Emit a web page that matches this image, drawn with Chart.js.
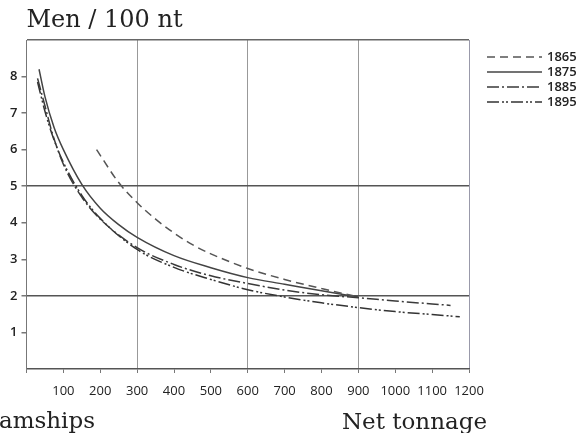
<!DOCTYPE html>
<html>
<head>
<meta charset="utf-8">
<script src="https://cdn.jsdelivr.net/npm/chart.js@4/dist/chart.umd.min.js"></script>
<style>
  html, body { margin: 0; padding: 0; background: #fff; }
  #wrap { width: 585px; height: 433px; }
</style>
</head>
<body>
<div id="wrap"><canvas id="myChart" width="585" height="433"></canvas></div>
<script>
// values (net tonnage -> men per 100 nt)
const years = ['1865', '1875', '1885', '1895'];

const tons1865 = [190, 250, 300, 350, 400, 450, 500, 600, 700, 800, 900];
const men1865  = [6.0, 5.1, 4.55, 4.1, 3.72, 3.4, 3.15, 2.75, 2.45, 2.2, 1.97];

const tons1875 = [34, 50, 75, 100, 150, 200, 250, 300, 400, 500, 600, 700, 800, 900];
const men1875  = [8.2, 7.45, 6.6, 6.0, 5.05, 4.4, 3.95, 3.6, 3.1, 2.77, 2.5, 2.32, 2.14, 1.97];

const tons1885 = [30, 50, 70, 100, 150, 200, 300, 400, 500, 600, 700, 800, 900, 1000, 1100, 1150];
const men1885  = [7.95, 7.2, 6.45, 5.6, 4.7, 4.1, 3.32, 2.86, 2.55, 2.34, 2.16, 2.03, 1.95, 1.86, 1.78, 1.74];

const tons1895 = [30, 50, 70, 100, 150, 200, 300, 400, 500, 600, 700, 800, 900, 1000, 1100, 1175];
const men1895  = [7.85, 7.05, 6.4, 5.65, 4.75, 4.12, 3.27, 2.78, 2.45, 2.17, 1.97, 1.81, 1.68, 1.57, 1.49, 1.43];

const xTicks = [100, 200, 300, 400, 500, 600, 700, 800, 900, 1000, 1100, 1200];
const yTicks = [1, 2, 3, 4, 5, 6, 7, 8];

function pts(xs, ys) {
    return xs.map((x, i) => ({ x: x, y: ys[i] }));
}

const serif = '"DejaVu Serif", serif';
const sans = '"Open Sans", sans-serif';

const textPlugin = {
    id: 'paperText',
    afterDraw(chart) {
        const { ctx, chartArea: { left, right } } = chart;
        ctx.save();
        ctx.fillStyle = '#222';
        ctx.font = '24px ' + serif;
        ctx.textBaseline = 'alphabetic';
        ctx.textAlign = 'left';
        ctx.fillText('Men / 100 nt', left, 27);
        ctx.font = '23px ' + serif;
        ctx.textAlign = 'right';
        ctx.fillText('Steamships', 95, 428);
        ctx.fillText('Net tonnage', right + 18, 429);

        // legend on the right
        ctx.font = '600 13px ' + sans;
        ctx.textAlign = 'left';
        ctx.textBaseline = 'middle';
        chart.data.datasets.forEach((ds, i) => {
            const y = 57 + i * 15;
            ctx.beginPath();
            ctx.setLineDash(ds.borderDash || []);
            ctx.strokeStyle = ds.borderColor;
            ctx.lineWidth = 1.6;
            ctx.moveTo(487, y);
            ctx.lineTo(542, y);
            ctx.stroke();
            ctx.setLineDash([]);
            ctx.fillStyle = '#222';
            ctx.fillText(ds.label, 547, y);
        });
        ctx.restore();
    }
};

const ctx = document.getElementById('myChart');

new Chart(ctx, {
    type: 'line',
    plugins: [textPlugin],
    data: {
        datasets: [
            { label: years[0], data: pts(tons1865, men1865), borderColor: '#555', borderDash: [8, 5] },
            { label: years[1], data: pts(tons1875, men1875), borderColor: '#444', borderDash: [] },
            { label: years[2], data: pts(tons1885, men1885), borderColor: '#3a3a3a', borderDash: [12, 3, 2, 3] },
            { label: years[3], data: pts(tons1895, men1895), borderColor: '#333', borderDash: [12, 3, 2, 2, 2, 3] }
        ]
    },
    options: {
        responsive: false,
        animation: false,
        layout: { padding: { left: 0, top: 40, right: 116, bottom: 0 } },
        elements: {
            line: { borderWidth: 1.5, cubicInterpolationMode: 'monotone', fill: false },
            point: { radius: 0 }
        },
        plugins: {
            legend: { display: false },
            tooltip: { enabled: false }
        },
        scales: {
            x: {
                type: 'linear',
                min: 0,
                max: 1200,
                afterFit(scale) { scale.height = 64; },
                afterBuildTicks(scale) {
                    scale.ticks = [{ value: 0 }].concat(xTicks.map(v => ({ value: v })));
                },
                ticks: {
                    padding: 10,
                    maxRotation: 0,
                    autoSkip: false,
                    color: '#222',
                    font: { family: sans, size: 13 },
                    callback: v => (v === 0 ? '' : String(v))
                },
                grid: {
                    tickLength: 4,
                    color: c => {
                        const v = c.tick ? c.tick.value : 0;
                        if (v === 1200) return '#99a';
                        if (v % 300 === 0 && v !== 0) return '#999';
                        return 'transparent';
                    },
                    tickColor: '#777',
                    lineWidth: 1
                },
                border: { color: '#555', width: 1.5 }
            },
            y: {
                type: 'linear',
                min: 0,
                max: 9,
                afterFit(scale) { scale.width = 26.5; },
                afterBuildTicks(scale) {
                    scale.ticks = [{ value: 0 }].concat(yTicks.map(v => ({ value: v })), [{ value: 9 }]);
                },
                ticks: {
                    padding: 4,
                    color: '#222',
                    font: { family: sans, size: 13, weight: '600' },
                    callback: v => (v === 0 || v === 9 ? '' : String(v))
                },
                grid: {
                    tickLength: 5,
                    color: c => {
                        const v = c.tick ? c.tick.value : 0;
                        if (v === 2 || v === 5) return '#555';
                        if (v === 9) return '#666';
                        return 'transparent';
                    },
                    tickColor: c => (c.tick && (c.tick.value === 0 || c.tick.value === 9) ? 'transparent' : '#777'),
                    lineWidth: 1.5
                },
                border: { color: '#777', width: 1 }
            }
        }
    }
});
</script>
</body>
</html>
